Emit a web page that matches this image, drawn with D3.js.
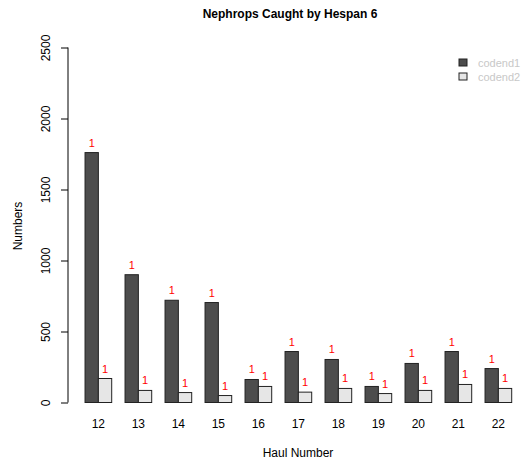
<!DOCTYPE html>
<html><head><meta charset="utf-8">
<script src="https://cdn.jsdelivr.net/npm/d3@7"></script>
<style>body{margin:0;background:#fff}text{font-family:"Liberation Sans",Arial,sans-serif}</style>
</head><body><svg id="c" width="523" height="464"></svg>
<script>
const hauls=["12","13","14","15","16","17","18","19","20","21","22"];
const codend1=[1760,900,720,704,162,359,303,113,275,359,239];
const codend2=[169,85,70,49,113,73,99,63,85,127,99];
const labels1=["1","1","1","1","1","1","1","1","1","1","1"];
const labels2=["1","1","1","1","1","1","1","1","1","1","1"];
const series=["codend1","codend2"];
const colors=["#4d4d4d","#e6e6e6"];
const yTicks=[0,500,1000,1500,2000,2500];

const svg=d3.select("#c");
const y=d3.scaleLinear().domain([0,2500]).range([402.5,47.5]);
const x=d3.scaleLinear().domain([0,33]).range([71.7,511.7]);
const bw=x(1)-x(0);

hauls.forEach((h,i)=>{
  [codend1[i],codend2[i]].forEach((v,j)=>{
    const u=i*3+1+j;
    svg.append("rect").attr("x",x(u)).attr("y",y(v)).attr("width",bw).attr("height",y(0)-y(v))
      .attr("fill",colors[j]).attr("stroke","#222").attr("stroke-width",1);
    svg.append("text").attr("x",x(u)+bw/2).attr("y",y(v)-6).attr("text-anchor","middle")
      .attr("font-size",11).attr("fill","red").text(j?labels2[i]:labels1[i]);
  });
  svg.append("text").attr("x",x(i*3+2)).attr("y",428).attr("text-anchor","middle").attr("font-size",12).text(h);
});

const ax=svg.append("g").attr("transform","translate(68,0)")
  .call(d3.axisLeft(y).tickValues(yTicks).tickSize(7).tickPadding(5).tickFormat(d3.format("d")));
ax.select(".domain").attr("d",`M0,${y(0)}V${y(2500)}`);
ax.selectAll("text").attr("font-size",12).attr("font-family","Liberation Sans, Arial, sans-serif")
  .attr("transform",function(d){return `rotate(-90,-12,${y(d)})`;}).attr("x",-12).attr("dy","0.35em")
  .attr("y",y=>null).attr("text-anchor","middle");
ax.selectAll(".tick text").each(function(d){d3.select(this).attr("y",0).attr("transform",`translate(-22,0) rotate(-90)`).attr("x",0).attr("dy","0.35em");});

svg.append("text").attr("x",290).attr("y",18).attr("text-anchor","middle").attr("font-size",12).attr("font-weight","bold").text("Nephrops Caught by Hespan 6");
svg.append("text").attr("x",298).attr("y",457).attr("text-anchor","middle").attr("font-size",12).text("Haul Number");
svg.append("text").attr("transform","translate(22,226) rotate(-90)").attr("text-anchor","middle").attr("font-size",12).text("Numbers");

series.forEach((s,j)=>{
  svg.append("rect").attr("x",459).attr("y",59+j*14).attr("width",8).attr("height",7).attr("fill",colors[j]).attr("stroke","#222");
  svg.append("text").attr("x",478).attr("y",63+j*14).attr("dy","0.35em").attr("font-size",11).attr("fill","#c8c8c8").text(s);
});
</script></body></html>
